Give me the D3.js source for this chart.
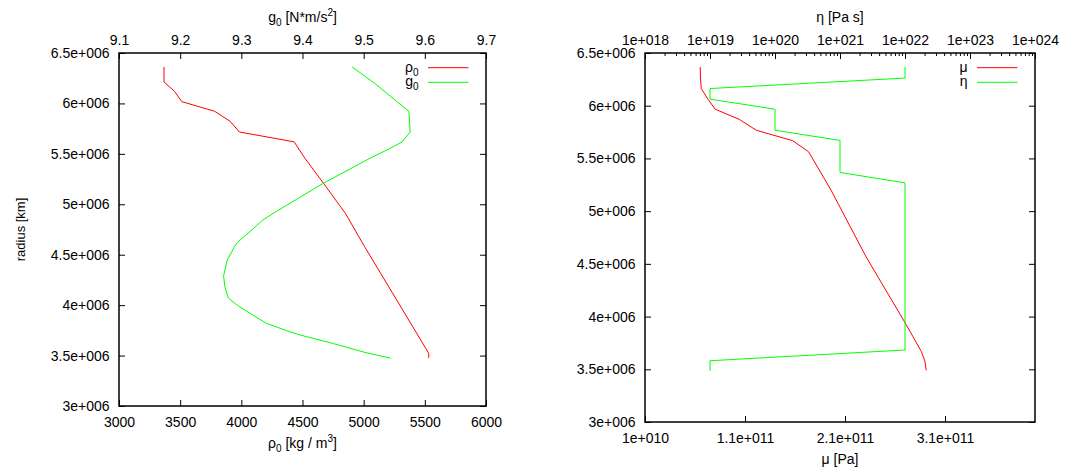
<!DOCTYPE html>
<html>
<head>
<meta charset="utf-8">
<script src="https://cdn.jsdelivr.net/npm/d3@7/dist/d3.min.js"></script>
<style>
  html, body { margin: 0; padding: 0; background: #fff; }
  svg { display: block; }
  text { font-family: "Liberation Sans", Arial, sans-serif; fill: #000; }
</style>
</head>
<body>
<svg id="chart" width="1078" height="472"></svg>
<script>
// Radius axis (shared by both panels)
const radiusTicks = [3e6, 3.5e6, 4e6, 4.5e6, 5e6, 5.5e6, 6e6, 6.5e6];
const radiusTickLabels = ["3e+006", "3.5e+006", "4e+006", "4.5e+006", "5e+006", "5.5e+006", "6e+006", "6.5e+006"];

// Density axis (bottom, left panel)
const rhoTicks = [3000, 3500, 4000, 4500, 5000, 5500, 6000];
const rhoTickLabels = ["3000", "3500", "4000", "4500", "5000", "5500", "6000"];

// Gravity axis (top, left panel)
const gTicks = [9.1, 9.2, 9.3, 9.4, 9.5, 9.6, 9.7];
const gTickLabels = ["9.1", "9.2", "9.3", "9.4", "9.5", "9.6", "9.7"];

// Shear modulus axis (bottom, right panel)
const muTicks = [1e10, 1.1e11, 2.1e11, 3.1e11];
const muTickLabels = ["1e+010", "1.1e+011", "2.1e+011", "3.1e+011"];

// Viscosity axis (top, right panel, logarithmic)
const etaTicks = [1e18, 1e19, 1e20, 1e21, 1e22, 1e23, 1e24];
const etaTickLabels = ["1e+018", "1e+019", "1e+020", "1e+021", "1e+022", "1e+023", "1e+024"];

// Density profile rho0(r)
const rhoRadius = [6.362e6, 6.213e6, 6.121e6, 6.018e6, 5.922e6, 5.823e6, 5.717e6, 5.619e6, 5.459e6, 5.208e6, 4.911e6, 4.579e6, 4.051e6, 3.522e6, 3.477e6];
const rhoValues = [3368, 3368, 3453, 3513, 3782, 3908, 3984, 4432, 4518, 4672, 4850, 5008, 5270, 5532, 5532];

// Gravity profile g0(r)
const gRadius = [6.362e6, 6.204e6, 6.020e6, 5.922e6, 5.717e6, 5.619e6, 5.538e6, 5.465e6, 5.208e6, 4.943e6, 4.844e6, 4.728e6, 4.672e6, 4.613e6, 4.448e6, 4.290e6, 4.183e6, 4.068e6, 4.001e6, 3.919e6, 3.820e6, 3.747e6, 3.704e6, 3.621e6, 3.532e6, 3.474e6];
const gValues = [9.481, 9.517, 9.554, 9.574, 9.576, 9.563, 9.538, 9.513, 9.434, 9.361, 9.335, 9.314, 9.303, 9.292, 9.277, 9.271, 9.273, 9.279, 9.293, 9.314, 9.341, 9.374, 9.396, 9.449, 9.502, 9.544];

// Shear modulus profile mu(r)
const muRadius = [6.367e6, 6.262e6, 6.163e6, 6.062e6, 5.967e6, 5.871e6, 5.767e6, 5.668e6, 5.563e6, 5.200e6, 4.568e6, 3.967e6, 3.809e6, 3.667e6, 3.580e6, 3.490e6];
const muValues = [6.52e10, 6.55e10, 6.62e10, 7.3e10, 8.01e10, 1.042e11, 1.214e11, 1.578e11, 1.736e11, 1.96e11, 2.31e11, 2.685e11, 2.78e11, 2.864e11, 2.898e11, 2.913e11];

// Viscosity profile eta(r)
const etaRadius = [6.367e6, 6.262e6, 6.163e6, 6.062e6, 5.967e6, 5.767e6, 5.671e6, 5.367e6, 5.268e6, 3.683e6, 3.581e6, 3.484e6];
const etaValues = [1e22, 1e22, 1e19, 1e19, 1e20, 1e20, 1e21, 1e21, 1e22, 1e22, 1e19, 1e19];

const svg = d3.select("#chart");
const FONT = 14;
const RED = "#ff0000";
const GREEN = "#00ff00";

function styleAxis(g) {
  g.attr("font-size", FONT)
   .attr("font-family", "'Liberation Sans', Arial, sans-serif")
   .attr("color", "#000");
  g.select(".domain").remove();
  g.selectAll(".tick line").attr("stroke", "#000").attr("stroke-width", 1);
}

// Append a label made of [text, kind] parts, kind: "n" normal, "sub", "sup"
function richText(sel, parts) {
  let shift = 0;
  parts.forEach(([t, kind]) => {
    const target = kind === "sub" ? 4 : kind === "sup" ? -6 : 0;
    sel.append("tspan")
      .attr("dy", target - shift)
      .attr("font-size", kind === "n" ? FONT : 10)
      .text(t);
    shift = target;
  });
  return sel;
}

function drawPanel(p) {
  const { left, right, top, bottom } = p;
  const y = d3.scaleLinear().domain([3e6, 6.5e6]).range([bottom, top]);
  const xb = p.xBottom.range([left, right]);
  const xt = p.xTop.range([left, right]);
  const g = svg.append("g");

  // left radius axis
  g.append("g").attr("transform", `translate(${left},0)`)
    .call(d3.axisLeft(y).tickValues(radiusTicks)
      .tickFormat((d, i) => radiusTickLabels[i]).tickSize(-6).tickPadding(9.5))
    .call(styleAxis);
  // mirrored ticks on the right side
  g.append("g").attr("transform", `translate(${right},0)`)
    .call(d3.axisRight(y).tickValues(radiusTicks).tickFormat("").tickSize(-6))
    .call(styleAxis);
  // bottom axis
  g.append("g").attr("transform", `translate(0,${bottom})`)
    .call(d3.axisBottom(xb).tickValues(p.bottomTicks)
      .tickFormat((d, i) => p.bottomLabels[i]).tickSize(-6).tickPadding(11.5))
    .call(styleAxis);
  // top axis
  if (p.topMinor) {
    g.append("g").attr("transform", `translate(0,${top})`)
      .call(d3.axisTop(xt).tickValues(p.topMinor).tickFormat("").tickSize(-3))
      .call(styleAxis);
  }
  g.append("g").attr("transform", `translate(0,${top})`)
    .call(d3.axisTop(xt).tickValues(p.topTicks)
      .tickFormat((d, i) => p.topLabels[i]).tickSize(-6).tickPadding(8))
    .call(styleAxis);

  // plot border
  g.append("rect")
    .attr("x", left).attr("y", top)
    .attr("width", right - left).attr("height", bottom - top)
    .attr("fill", "none").attr("stroke", "#000").attr("stroke-width", 1.5);

  // profiles
  const bottomLine = d3.line().x(d => xb(d[1])).y(d => y(d[0]));
  const topLine = d3.line().x(d => xt(d[1])).y(d => y(d[0]));
  g.append("path").datum(d3.zip(p.redR, p.redV))
    .attr("d", bottomLine).attr("fill", "none")
    .attr("stroke", RED).attr("stroke-width", 1);
  g.append("path").datum(d3.zip(p.greenR, p.greenV))
    .attr("d", topLine).attr("fill", "none")
    .attr("stroke", GREEN).attr("stroke-width", 1);

  // legend
  const lx = right - 67.5;
  [[p.redKey, RED, top + 14.7], [p.greenKey, GREEN, top + 29.3]].forEach(([parts, col, ry]) => {
    richText(g.append("text").attr("x", lx).attr("y", ry + 4)
      .attr("text-anchor", "end").attr("font-size", FONT), parts);
    g.append("line").attr("x1", right - 58).attr("x2", right - 17.5)
      .attr("y1", ry).attr("y2", ry).attr("stroke", col).attr("stroke-width", 1);
  });

  // axis titles
  const cx = (left + right) / 2;
  richText(g.append("text").attr("x", cx).attr("y", 21.5)
    .attr("text-anchor", "middle").attr("font-size", FONT), p.topTitle);
  richText(g.append("text").attr("x", cx).attr("y", bottom + 42)
    .attr("text-anchor", "middle").attr("font-size", FONT), p.bottomTitle);
}

// log minor ticks for viscosity axis
const etaMinor = [];
for (let e = 18; e < 24; e++) for (let k = 2; k <= 9; k++) etaMinor.push(k * Math.pow(10, e));

drawPanel({
  left: 119, right: 486, top: 53, bottom: 406,
  xBottom: d3.scaleLinear().domain([3000, 6000]),
  xTop: d3.scaleLinear().domain([9.1, 9.7]),
  bottomTicks: rhoTicks, bottomLabels: rhoTickLabels,
  topTicks: gTicks, topLabels: gTickLabels,
  redR: rhoRadius, redV: rhoValues,
  greenR: gRadius, greenV: gValues,
  redKey: [["ρ", "n"], ["0", "sub"]],
  greenKey: [["g", "n"], ["0", "sub"]],
  topTitle: [["g", "n"], ["0", "sub"], [" [N*m/s", "n"], ["2", "sup"], ["]", "n"]],
  bottomTitle: [["ρ", "n"], ["0", "sub"], [" [kg / m", "n"], ["3", "sup"], ["]", "n"]]
});

drawPanel({
  left: 645, right: 1035, top: 53, bottom: 422,
  xBottom: d3.scaleLinear().domain([1e10, 4e11]),
  xTop: d3.scaleLog().domain([1e18, 1e24]),
  bottomTicks: muTicks, bottomLabels: muTickLabels,
  topTicks: etaTicks, topLabels: etaTickLabels,
  topMinor: etaMinor,
  redR: muRadius, redV: muValues,
  greenR: etaRadius, greenV: etaValues,
  redKey: [["μ", "n"]],
  greenKey: [["η", "n"]],
  topTitle: [["η [Pa s]", "n"]],
  bottomTitle: [["μ [Pa]", "n"]]
});

// shared radius label
svg.append("text")
  .attr("transform", "translate(20,229.5) rotate(-90)")
  .attr("text-anchor", "middle").attr("dy", "0.35em")
  .attr("font-size", FONT - 1)
  .text("radius [km]");
</script>
</body>
</html>
